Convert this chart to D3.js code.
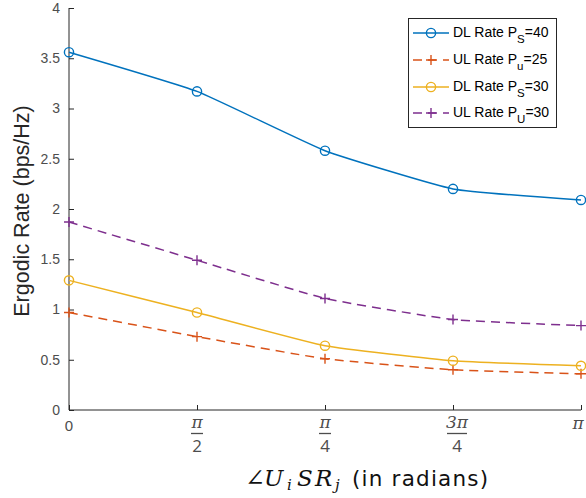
<!DOCTYPE html>
<html>
<head>
<meta charset="utf-8">
<script src="https://cdn.jsdelivr.net/npm/d3@7"></script>
<style>
  html, body { margin: 0; padding: 0; background: #fff; }
  svg { display: block; }
</style>
</head>
<body>
<svg id="chart" width="586" height="498"></svg>
<script>
// ---- data ----
const xPositions = [0, 1, 2, 3, 4];
const xTickLabels = [
  {num: "0", den: null},
  {num: "π", den: "2"},
  {num: "π", den: "4"},
  {num: "3π", den: "4"},
  {num: "π", den: null}
];
const yTicks = [0, 0.5, 1, 1.5, 2, 2.5, 3, 3.5, 4];

const dlRatePs40 = [3.56, 3.17, 2.58, 2.20, 2.09];
const ulRatePu25 = [0.97, 0.73, 0.51, 0.40, 0.36];
const dlRatePs30 = [1.29, 0.97, 0.64, 0.49, 0.44];
const ulRatePu30 = [1.87, 1.49, 1.11, 0.90, 0.84];

const seriesNames = [
  {pre: "DL Rate P", sub: "S", post: "=40"},
  {pre: "UL Rate P", sub: "u", post: "=25"},
  {pre: "DL Rate P", sub: "S", post: "=30"},
  {pre: "UL Rate P", sub: "U", post: "=30"}
];
const seriesValues = [dlRatePs40, ulRatePu25, dlRatePs30, ulRatePu30];
const seriesColors = ["#0072BD", "#D95319", "#EDB120", "#7E2F8E"];
const seriesMarkers = ["circle", "plus", "circle", "plus"];
const seriesDashed = [false, true, false, true];

// ---- layout ----
const svg = d3.select("#chart");
const x = d3.scaleLinear().domain([0, 4]).range([69, 581]);
const y = d3.scaleLinear().domain([0, 4]).range([410, 8]);
const axisColor = "#262626";
const tickTextColor = "#4d4d4d";

// y axis
const yAxis = svg.append("g")
  .attr("transform", `translate(${x(0)},0)`)
  .call(d3.axisLeft(y).tickValues(yTicks).tickSize(-5).tickPadding(9)
        .tickFormat(d => d3.format("")(d)));
yAxis.select(".domain").attr("stroke", axisColor).attr("d", `M0,${y(4)}V${y(0)}`);
yAxis.selectAll(".tick line").attr("stroke", axisColor);
yAxis.selectAll(".tick text")
  .attr("fill", tickTextColor)
  .style("font-family", "'Liberation Sans', Arial, sans-serif")
  .style("font-size", "14px");

// x axis
const xAxis = svg.append("g")
  .attr("transform", `translate(0,${y(0)})`)
  .call(d3.axisBottom(x).tickValues(xPositions).tickSize(-5).tickFormat(""));
xAxis.select(".domain").attr("stroke", axisColor).attr("d", `M${x(0)},0H${x(4)}`);
xAxis.selectAll(".tick line").attr("stroke", axisColor);

// custom x tick labels (fractions)
const xl = svg.append("g").attr("class", "xlabels");
xTickLabels.forEach((t, i) => {
  const off = t.num.length > 1 ? 4 : 0;
  const g = xl.append("g").attr("transform", `translate(${x(xPositions[i]) + off},0)`);
  if (t.den === null) {
    g.append("text")
      .attr("x", t.num === "0" ? 0 : -3)
      .attr("y", t.num === "0" ? 431 : 429)
      .attr("text-anchor", "middle")
      .attr("fill", tickTextColor)
      .style("font-family", t.num === "0" ? "'Liberation Sans', Arial, sans-serif" : "'DejaVu Serif', serif")
      .style("font-style", t.num === "0" ? "normal" : "italic")
      .style("font-size", t.num === "0" ? "15px" : "17px")
      .text(t.num);
  } else {
    g.append("text")
      .attr("y", 428)
      .attr("text-anchor", "middle")
      .attr("fill", tickTextColor)
      .style("font-family", "'DejaVu Serif', serif")
      .style("font-style", "italic")
      .style("font-size", "17px")
      .text(t.num);
    const w = t.num.length > 1 ? 20 : 12;
    g.append("line")
      .attr("x1", -w / 2).attr("x2", w / 2)
      .attr("y1", 433.5).attr("y2", 433.5)
      .attr("stroke", tickTextColor).attr("stroke-width", 1.3);
    g.append("text")
      .attr("y", 452)
      .attr("text-anchor", "middle")
      .attr("fill", tickTextColor)
      .style("font-family", "'Open Sans', 'DejaVu Sans', sans-serif")
      .style("font-size", "17px")
      .text(t.den);
  }
});

// axis titles
svg.append("text")
  .attr("transform", `translate(29,${(y(0) + y(4)) / 2 + 2}) rotate(-90)`)
  .attr("text-anchor", "middle")
  .attr("fill", axisColor)
  .style("font-family", "'Liberation Sans', Arial, sans-serif")
  .style("font-size", "21.5px")
  .text("Ergodic Rate (bps/Hz)");

const xt = svg.append("text")
  .attr("y", 486)
  .attr("fill", "#111");
const mathStyle = s => s.style("font-family", "'DejaVu Serif', serif").style("font-style", "italic");
mathStyle(xt.append("tspan").attr("x", 245).style("font-size", "24px").style("font-style", "normal").text("∠"));
mathStyle(xt.append("tspan").attr("x", 264).style("font-size", "23px").text("U"));
mathStyle(xt.append("tspan").attr("x", 287).style("font-size", "15px").attr("dy", 4).text("i"));
mathStyle(xt.append("tspan").attr("x", 297).style("font-size", "23px").attr("dy", -4).text("S"));
mathStyle(xt.append("tspan").attr("x", 315).style("font-size", "23px").text("R"));
mathStyle(xt.append("tspan").attr("x", 335).style("font-size", "15px").attr("dy", 4).text("j"));
xt.append("tspan").attr("x", 352).attr("dy", -4)
  .style("font-family", "'DejaVu Sans', sans-serif")
  .style("font-size", "21.5px")
  .style("letter-spacing", "1.2px")
  .text("(in radians)");

// series
const line = d3.line()
  .x((d, i) => x(xPositions[i]))
  .y(d => y(d))
  .curve(d3.curveCardinal.tension(0.6));

function drawMarker(g, type, color, cx, cy) {
  if (type === "circle") {
    g.append("circle").attr("cx", cx).attr("cy", cy).attr("r", 4.6)
      .attr("fill", "none").attr("stroke", color).attr("stroke-width", 1.4);
  } else {
    const s = 5;
    g.append("path")
      .attr("d", `M${cx - s},${cy}H${cx + s}M${cx},${cy - s}V${cy + s}`)
      .attr("stroke", color).attr("stroke-width", 1.4).attr("fill", "none");
  }
}

seriesValues.forEach((vals, k) => {
  const g = svg.append("g");
  g.append("path")
    .datum(vals)
    .attr("d", line)
    .attr("fill", "none")
    .attr("stroke", seriesColors[k])
    .attr("stroke-width", 1.5)
    .attr("stroke-dasharray", seriesDashed[k] ? "9,6" : null);
  vals.forEach((v, i) => drawMarker(g, seriesMarkers[k], seriesColors[k], x(xPositions[i]), y(v)));
});

// legend
const lg = svg.append("g");
lg.append("rect")
  .attr("x", 408.5).attr("y", 18.5).attr("width", 148).attr("height", 109)
  .attr("fill", "#fff").attr("stroke", axisColor).attr("stroke-width", 1);
const legendY = [33, 60, 87, 113];
seriesNames.forEach((n, k) => {
  const yy = legendY[k];
  lg.append("line")
    .attr("x1", 413).attr("x2", 449).attr("y1", yy).attr("y2", yy)
    .attr("stroke", seriesColors[k]).attr("stroke-width", 1.5)
    .attr("stroke-dasharray", seriesDashed[k] ? "9,6" : null);
  drawMarker(lg, seriesMarkers[k], seriesColors[k], 431, yy);
  const t = lg.append("text")
    .attr("x", 453).attr("y", yy + 4)
    .attr("fill", "#000")
    .style("font-family", "'Liberation Sans', Arial, sans-serif")
    .style("font-size", "14px");
  t.append("tspan").text(n.pre);
  t.append("tspan").attr("dy", 6).style("font-size", "11.5px").text(n.sub);
  t.append("tspan").attr("dy", -6).text(n.post);
});
</script>
</body>
</html>
